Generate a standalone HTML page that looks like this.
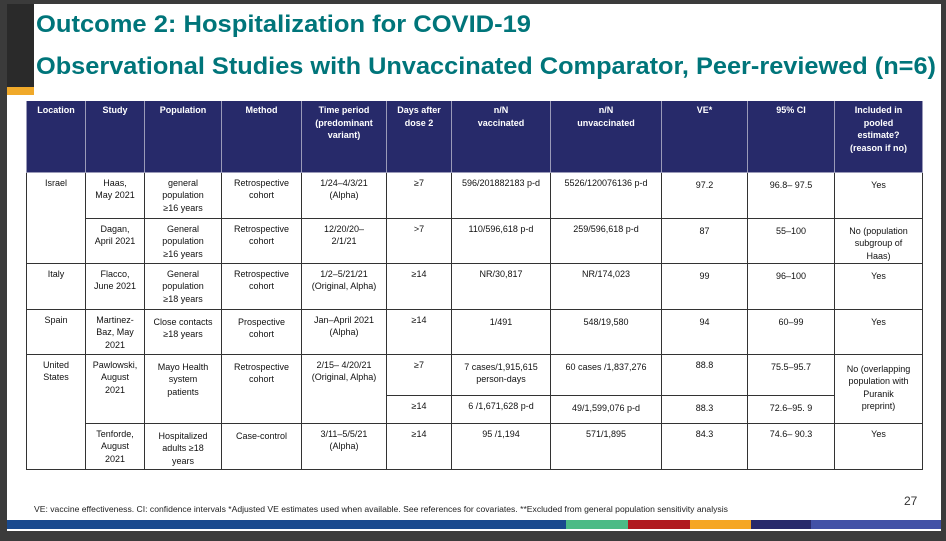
<!DOCTYPE html>
<html><head><meta charset="utf-8"><style>
*{margin:0;padding:0;box-sizing:border-box}
body{width:946px;height:541px;background:#3b3b3b;position:relative;overflow:hidden;font-family:"Liberation Sans",sans-serif}
#slide{position:absolute;left:7px;top:4px;width:934px;height:527px;background:#fff}
.abs{position:absolute}
table{position:absolute;left:26px;top:101px;border-collapse:collapse;table-layout:fixed;width:896px}
td,th{border:1px solid #333;text-align:center;vertical-align:top;font-size:9px;line-height:12.5px;padding:4px 1px 0 1px;color:#111;font-weight:normal;white-space:nowrap}
th{background:#272a6a;color:#fff;font-weight:bold;border-color:#9a9ab8;border-top:none;padding-top:3px}
</style></head><body>
<div id="slide"></div>
<div class="abs" style="left:7px;top:4px;width:27px;height:83px;background:#2a2a2a"></div>
<div class="abs" style="left:7px;top:87px;width:27px;height:8px;background:#f0a92a"></div>
<svg class="abs" style="left:0;top:0" width="946" height="100">
<text x="36" y="32" textLength="495" lengthAdjust="spacingAndGlyphs" font-family="Liberation Sans" font-weight="bold" font-size="24" fill="#00757a">Outcome 2: Hospitalization for COVID-19</text>
<text x="36" y="74" textLength="900" lengthAdjust="spacingAndGlyphs" font-family="Liberation Sans" font-weight="bold" font-size="24" fill="#00757a">Observational Studies with Unvaccinated Comparator, Peer-reviewed (n=6)</text>
</svg>
<table>
<colgroup><col style="width:59px"><col style="width:59px"><col style="width:77px"><col style="width:80px"><col style="width:85px"><col style="width:65px"><col style="width:99px"><col style="width:111px"><col style="width:86px"><col style="width:87px"><col style="width:88px"></colgroup>
<tr style="height:71px">
<th>Location</th><th>Study</th><th>Population</th><th>Method</th><th>Time period<br>(predominant<br>variant)</th><th>Days after<br>dose 2</th><th>n/N<br>vaccinated</th><th>n/N<br>unvaccinated</th><th>VE*</th><th>95% CI</th><th>Included in<br>pooled<br>estimate?<br>(reason if no)</th></tr>
<tr style="height:46px">
<td rowspan="2">Israel</td><td>Haas,<br>May 2021</td><td>general<br>population<br>≥16 years</td><td>Retrospective<br>cohort</td><td>1/24–4/3/21<br>(Alpha)</td><td>≥7</td><td>596/201882183 p-d</td><td>5526/120076136 p-d</td><td style="padding-top:6px">97.2</td><td style="padding-top:6px">96.8– 97.5</td><td style="padding-top:6px">Yes</td></tr>
<tr style="height:45px">
<td>Dagan,<br>April 2021</td><td>General<br>population<br>≥16 years</td><td>Retrospective<br>cohort</td><td>12/20/20–<br>2/1/21</td><td>&gt;7</td><td>110/596,618 p-d</td><td>259/596,618 p-d</td><td style="padding-top:6px">87</td><td style="padding-top:6px">55–100</td><td style="padding-top:6px">No (population<br>subgroup of<br>Haas)</td></tr>
<tr style="height:46px">
<td>Italy</td><td>Flacco,<br>June 2021</td><td>General<br>population<br>≥18 years</td><td>Retrospective<br>cohort</td><td>1/2–5/21/21<br>(Original, Alpha)</td><td>≥14</td><td>NR/30,817</td><td>NR/174,023</td><td style="padding-top:6px">99</td><td style="padding-top:6px">96–100</td><td style="padding-top:6px">Yes</td></tr>
<tr style="height:45px">
<td>Spain</td><td>Martinez-<br>Baz, May<br>2021</td><td style="padding-top:6px">Close contacts<br>≥18 years</td><td style="padding-top:6px">Prospective<br>cohort</td><td>Jan–April 2021<br>(Alpha)</td><td>≥14</td><td style="padding-top:6px">1/491</td><td style="padding-top:6px">548/19,580</td><td style="padding-top:6px">94</td><td style="padding-top:6px">60–99</td><td style="padding-top:6px">Yes</td></tr>
<tr style="height:41px">
<td rowspan="3">United<br>States</td><td rowspan="2">Pawlowski,<br>August<br>2021</td><td rowspan="2" style="padding-top:6px">Mayo Health<br>system<br>patients</td><td rowspan="2" style="padding-top:6px">Retrospective<br>cohort</td><td rowspan="2">2/15– 4/20/21<br>(Original, Alpha)</td><td>≥7</td><td style="padding-top:6px">7 cases/1,915,615<br>person-days</td><td style="padding-top:6px">60 cases /1,837,276</td><td>88.8</td><td style="padding-top:6px">75.5–95.7</td><td rowspan="2" style="padding-top:8px">No (overlapping<br>population with<br>Puranik<br>preprint)</td></tr>
<tr style="height:28px">
<td>≥14</td><td>6 /1,671,628 p-d</td><td style="padding-top:6px">49/1,599,076 p-d</td><td style="padding-top:6px">88.3</td><td style="padding-top:6px">72.6–95. 9</td></tr>
<tr style="height:46px">
<td>Tenforde,<br>August<br>2021</td><td style="padding-top:6px">Hospitalized<br>adults ≥18<br>years</td><td style="padding-top:6px">Case-control</td><td>3/11–5/5/21<br>(Alpha)</td><td>≥14</td><td>95 /1,194</td><td>571/1,895</td><td>84.3</td><td>74.6– 90.3</td><td>Yes</td></tr>
</table>
<div class="abs" style="left:34px;top:504px;font-size:8.6px;color:#222;white-space:nowrap">VE: vaccine effectiveness. CI: confidence intervals *Adjusted VE estimates used when available. See references for covariates. **Excluded from general population sensitivity analysis</div>
<div class="abs" style="left:904px;top:494px;font-size:12px;color:#333">27</div>
<div class="abs" style="left:7px;top:520px;height:9px;width:934px;display:flex">
<div style="width:559px;background:#1a4a8e"></div><div style="width:62px;background:#4cbb86"></div><div style="width:62px;background:#b01a1f"></div><div style="width:61px;background:#f5a623"></div><div style="width:60px;background:#282a6b"></div><div style="flex:1;background:#4251a6"></div></div>
</body></html>
